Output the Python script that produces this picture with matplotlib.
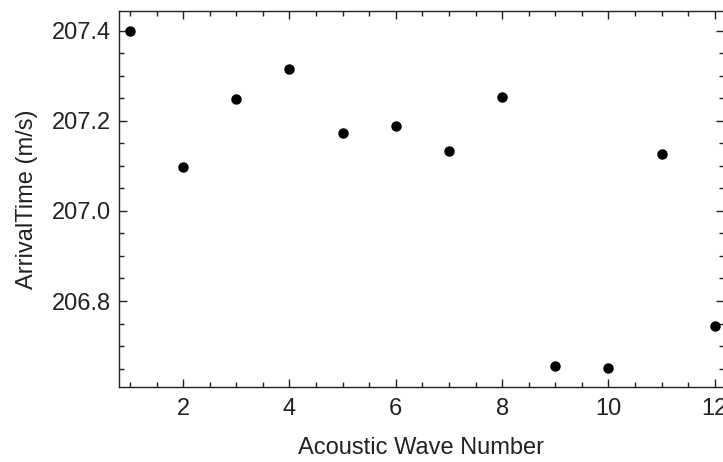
import matplotlib.pyplot as plt
from matplotlib.ticker import MultipleLocator, FormatStrFormatter

plt.rcParams['font.family'] = ['Liberation Sans', 'DejaVu Sans']

wave_number = [1, 2, 3, 4, 5, 6, 7, 8, 9, 10, 11, 12]
arrival_time = [207.400, 207.098, 207.249, 207.316, 207.173, 207.189,
                207.133, 207.253, 206.656, 206.651, 207.127, 206.744]

fig = plt.figure(figsize=(7.23, 4.62), dpi=100)
ax = fig.add_axes([0.1646, 0.1623, 0.8365, 0.8139])

ax.plot(wave_number, arrival_time, "o", color="black", markersize=6.5, clip_on=False)

ax.set_xlim(0.793, 12.17)
ax.set_ylim(206.609, 207.444)

ax.xaxis.set_major_locator(MultipleLocator(2))
ax.xaxis.set_minor_locator(MultipleLocator(0.5))
ax.yaxis.set_major_locator(MultipleLocator(0.2))
ax.yaxis.set_minor_locator(MultipleLocator(0.05))
ax.yaxis.set_major_formatter(FormatStrFormatter("%.1f"))

ax.tick_params(which="both", direction="in", top=True, right=True,
               width=1, color="#222222", labelsize=17, labelcolor="#222222")
ax.tick_params(axis="x", which="major", length=6, pad=8)
ax.tick_params(axis="y", which="major", length=6, pad=6)
ax.tick_params(which="minor", length=3.5)

for s in ax.spines.values():
    s.set_color("#222222")
    s.set_linewidth(1)

ax.set_xlabel("Acoustic Wave Number", fontsize=17, color="#222222", labelpad=12)
ax.set_ylabel("ArrivalTime (m/s)", fontsize=17, color="#222222", labelpad=10)

fig.savefig("out.png", dpi=100)
